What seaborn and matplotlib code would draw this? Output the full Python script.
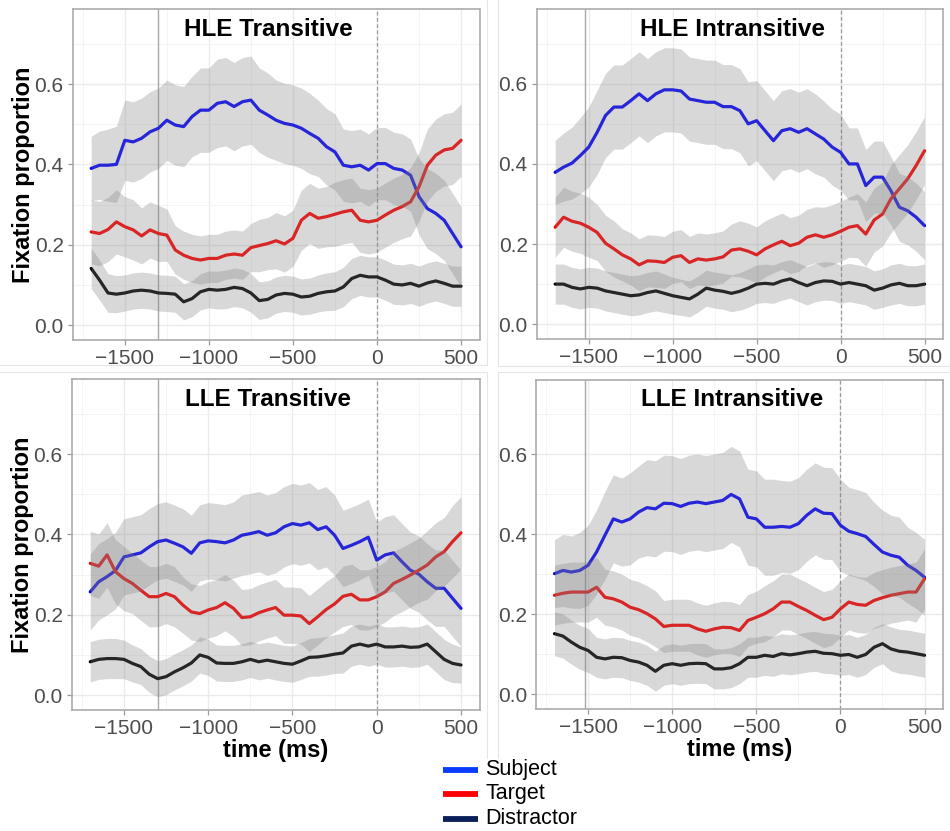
import numpy as np
import pandas as pd
import matplotlib
matplotlib.use("Agg")
import matplotlib.pyplot as plt
from matplotlib.lines import Line2D
from matplotlib.ticker import MultipleLocator
import seaborn as sns

# ---------------------------------------------------------------------------
# Data: fixation proportions, sampled every 50 ms from -1700 to 500 ms
# ---------------------------------------------------------------------------
time_ms = list(range(-1700, 501, 50))

hle_tr_subject = [
    0.390, 0.398, 0.398, 0.400, 0.460, 0.456, 0.465, 0.481, 0.490,
    0.510, 0.498, 0.494, 0.519, 0.535, 0.535, 0.552, 0.556, 0.544,
    0.556, 0.560, 0.535, 0.523, 0.510, 0.502, 0.498, 0.490, 0.477,
    0.465, 0.444, 0.431, 0.398, 0.394, 0.398, 0.386, 0.402, 0.402,
    0.390, 0.386, 0.373, 0.320, 0.290, 0.278, 0.261, 0.228, 0.195]
hle_tr_target = [
    0.232, 0.228, 0.238, 0.257, 0.245, 0.237, 0.222, 0.237, 0.228,
    0.224, 0.187, 0.174, 0.166, 0.162, 0.166, 0.166, 0.174, 0.177,
    0.174, 0.193, 0.198, 0.203, 0.210, 0.202, 0.216, 0.261, 0.278,
    0.266, 0.270, 0.276, 0.282, 0.286, 0.261, 0.257, 0.261, 0.274,
    0.286, 0.295, 0.307, 0.344, 0.398, 0.423, 0.436, 0.440, 0.460]
hle_tr_distractor = [
    0.141, 0.112, 0.080, 0.077, 0.080, 0.085, 0.087, 0.085, 0.080,
    0.079, 0.077, 0.058, 0.066, 0.083, 0.089, 0.087, 0.089, 0.094,
    0.091, 0.080, 0.061, 0.064, 0.075, 0.079, 0.077, 0.070, 0.072,
    0.079, 0.083, 0.085, 0.095, 0.116, 0.124, 0.120, 0.120, 0.112,
    0.102, 0.100, 0.104, 0.097, 0.105, 0.110, 0.104, 0.097, 0.097]

hle_in_subject = [
    0.379, 0.392, 0.402, 0.421, 0.442, 0.479, 0.521, 0.542, 0.542,
    0.558, 0.575, 0.558, 0.575, 0.585, 0.585, 0.582, 0.562, 0.558,
    0.554, 0.554, 0.543, 0.543, 0.533, 0.500, 0.508, 0.483, 0.458,
    0.483, 0.488, 0.479, 0.488, 0.475, 0.462, 0.442, 0.429, 0.400,
    0.400, 0.346, 0.367, 0.367, 0.333, 0.292, 0.283, 0.267, 0.246]
hle_in_target = [
    0.242, 0.267, 0.257, 0.252, 0.242, 0.229, 0.202, 0.188, 0.173,
    0.163, 0.148, 0.158, 0.157, 0.154, 0.167, 0.171, 0.154, 0.163,
    0.160, 0.163, 0.168, 0.185, 0.188, 0.182, 0.173, 0.188, 0.198,
    0.207, 0.196, 0.202, 0.217, 0.223, 0.217, 0.223, 0.232, 0.242,
    0.246, 0.225, 0.260, 0.275, 0.313, 0.338, 0.363, 0.396, 0.433]
hle_in_distractor = [
    0.100, 0.100, 0.092, 0.088, 0.092, 0.090, 0.083, 0.079, 0.075,
    0.071, 0.073, 0.079, 0.083, 0.077, 0.071, 0.067, 0.063, 0.075,
    0.090, 0.085, 0.082, 0.077, 0.082, 0.090, 0.100, 0.102, 0.100,
    0.108, 0.113, 0.104, 0.096, 0.104, 0.108, 0.107, 0.100, 0.104,
    0.100, 0.096, 0.085, 0.090, 0.098, 0.102, 0.096, 0.096, 0.100]

lle_tr_subject = [
    0.257, 0.282, 0.295, 0.310, 0.344, 0.349, 0.354, 0.369, 0.382,
    0.386, 0.378, 0.369, 0.353, 0.379, 0.384, 0.382, 0.379, 0.386,
    0.398, 0.402, 0.407, 0.398, 0.404, 0.419, 0.427, 0.423, 0.429,
    0.412, 0.419, 0.398, 0.365, 0.373, 0.382, 0.393, 0.336, 0.349,
    0.354, 0.332, 0.311, 0.301, 0.282, 0.266, 0.266, 0.241, 0.216]
lle_tr_target = [
    0.328, 0.321, 0.349, 0.307, 0.290, 0.278, 0.261, 0.245, 0.245,
    0.253, 0.245, 0.224, 0.207, 0.203, 0.212, 0.218, 0.230, 0.216,
    0.193, 0.195, 0.205, 0.212, 0.218, 0.199, 0.199, 0.197, 0.178,
    0.195, 0.213, 0.227, 0.246, 0.251, 0.237, 0.237, 0.245, 0.257,
    0.278, 0.288, 0.299, 0.311, 0.324, 0.344, 0.357, 0.382, 0.404]
lle_tr_distractor = [
    0.083, 0.089, 0.091, 0.091, 0.089, 0.079, 0.071, 0.052, 0.041,
    0.046, 0.058, 0.068, 0.080, 0.100, 0.094, 0.080, 0.079, 0.079,
    0.083, 0.089, 0.083, 0.087, 0.083, 0.079, 0.077, 0.085, 0.094,
    0.095, 0.098, 0.102, 0.105, 0.122, 0.127, 0.122, 0.127, 0.120,
    0.120, 0.122, 0.119, 0.120, 0.127, 0.108, 0.089, 0.079, 0.075]

lle_in_subject = [
    0.302, 0.310, 0.306, 0.310, 0.323, 0.356, 0.398, 0.439, 0.431,
    0.439, 0.456, 0.467, 0.464, 0.478, 0.477, 0.470, 0.478, 0.481,
    0.477, 0.481, 0.485, 0.500, 0.489, 0.443, 0.439, 0.418, 0.418,
    0.420, 0.418, 0.427, 0.448, 0.464, 0.453, 0.452, 0.423, 0.408,
    0.402, 0.395, 0.375, 0.356, 0.348, 0.343, 0.323, 0.310, 0.293]
lle_in_target = [
    0.248, 0.253, 0.256, 0.256, 0.256, 0.268, 0.243, 0.239, 0.231,
    0.218, 0.212, 0.202, 0.189, 0.170, 0.173, 0.173, 0.173, 0.164,
    0.158, 0.164, 0.168, 0.167, 0.160, 0.185, 0.193, 0.202, 0.214,
    0.231, 0.231, 0.220, 0.210, 0.198, 0.187, 0.193, 0.214, 0.231,
    0.225, 0.223, 0.235, 0.242, 0.248, 0.252, 0.256, 0.256, 0.289]
lle_in_distractor = [
    0.152, 0.146, 0.131, 0.118, 0.110, 0.093, 0.089, 0.093, 0.092,
    0.085, 0.081, 0.073, 0.058, 0.073, 0.077, 0.073, 0.077, 0.078,
    0.077, 0.064, 0.064, 0.067, 0.077, 0.093, 0.093, 0.098, 0.095,
    0.102, 0.099, 0.102, 0.106, 0.108, 0.103, 0.102, 0.098, 0.100,
    0.093, 0.100, 0.118, 0.127, 0.114, 0.108, 0.106, 0.102, 0.098]

# Confidence-band half-widths for each curve
hle_tr_subject_ci = [
    0.080, 0.085, 0.090, 0.095, 0.100, 0.100, 0.100, 0.100, 0.100,
    0.100, 0.100, 0.100, 0.100, 0.105, 0.105, 0.110, 0.110, 0.110,
    0.110, 0.110, 0.105, 0.105, 0.100, 0.100, 0.100, 0.100, 0.100,
    0.095, 0.095, 0.095, 0.090, 0.090, 0.090, 0.090, 0.090, 0.090,
    0.090, 0.090, 0.090, 0.095, 0.100, 0.100, 0.100, 0.100, 0.100]
hle_tr_target_ci = [
    0.080, 0.080, 0.080, 0.080, 0.075, 0.075, 0.070, 0.070, 0.070,
    0.065, 0.060, 0.060, 0.060, 0.060, 0.060, 0.060, 0.060, 0.060,
    0.060, 0.060, 0.065, 0.065, 0.070, 0.070, 0.070, 0.075, 0.075,
    0.075, 0.075, 0.080, 0.080, 0.080, 0.080, 0.080, 0.080, 0.080,
    0.080, 0.080, 0.085, 0.085, 0.090, 0.090, 0.090, 0.090, 0.090]
hle_tr_distractor_ci = [
    0.050, 0.050, 0.048, 0.046, 0.045, 0.045, 0.045, 0.045, 0.045,
    0.045, 0.045, 0.045, 0.045, 0.045, 0.046, 0.047, 0.048, 0.048,
    0.048, 0.048, 0.047, 0.046, 0.045, 0.045, 0.045, 0.045, 0.045,
    0.046, 0.047, 0.048, 0.049, 0.050, 0.050, 0.050, 0.050, 0.050,
    0.050, 0.050, 0.050, 0.050, 0.050, 0.050, 0.050, 0.050, 0.050]

hle_in_subject_ci = [
    0.080, 0.085, 0.090, 0.095, 0.100, 0.105, 0.105, 0.105, 0.105,
    0.105, 0.105, 0.105, 0.105, 0.105, 0.105, 0.105, 0.105, 0.105,
    0.105, 0.105, 0.105, 0.105, 0.105, 0.105, 0.100, 0.100, 0.100,
    0.100, 0.100, 0.100, 0.100, 0.100, 0.095, 0.095, 0.095, 0.090,
    0.090, 0.090, 0.090, 0.090, 0.085, 0.085, 0.085, 0.085, 0.085]
hle_in_target_ci = [
    0.075, 0.075, 0.075, 0.075, 0.075, 0.070, 0.070, 0.070, 0.065,
    0.065, 0.065, 0.065, 0.065, 0.065, 0.065, 0.065, 0.065, 0.065,
    0.065, 0.065, 0.065, 0.065, 0.070, 0.070, 0.070, 0.070, 0.070,
    0.070, 0.070, 0.070, 0.070, 0.070, 0.075, 0.075, 0.075, 0.075,
    0.080, 0.080, 0.080, 0.080, 0.085, 0.085, 0.085, 0.085, 0.085]
hle_in_distractor_ci = [
    0.050, 0.050, 0.050, 0.050, 0.050, 0.050, 0.050, 0.050, 0.050,
    0.050, 0.050, 0.050, 0.050, 0.048, 0.046, 0.045, 0.045, 0.045,
    0.045, 0.045, 0.045, 0.046, 0.047, 0.048, 0.048, 0.048, 0.048,
    0.048, 0.048, 0.048, 0.048, 0.048, 0.048, 0.048, 0.048, 0.048,
    0.048, 0.048, 0.048, 0.048, 0.050, 0.050, 0.050, 0.050, 0.050]

lle_tr_subject_ci = [
    0.095, 0.095, 0.095, 0.095, 0.095, 0.095, 0.095, 0.095, 0.095,
    0.095, 0.095, 0.095, 0.095, 0.095, 0.095, 0.095, 0.095, 0.095,
    0.100, 0.100, 0.100, 0.100, 0.100, 0.100, 0.100, 0.100, 0.100,
    0.100, 0.100, 0.100, 0.095, 0.095, 0.095, 0.095, 0.095, 0.095,
    0.095, 0.095, 0.095, 0.095, 0.095, 0.095, 0.095, 0.095, 0.095]
lle_tr_target_ci = [
    0.080, 0.080, 0.080, 0.080, 0.080, 0.075, 0.075, 0.075, 0.075,
    0.075, 0.075, 0.070, 0.070, 0.070, 0.070, 0.070, 0.070, 0.070,
    0.070, 0.070, 0.070, 0.070, 0.070, 0.070, 0.070, 0.070, 0.070,
    0.070, 0.070, 0.070, 0.075, 0.075, 0.075, 0.075, 0.075, 0.075,
    0.080, 0.080, 0.080, 0.080, 0.085, 0.085, 0.085, 0.090, 0.090]
lle_tr_distractor_ci = [
    0.050, 0.050, 0.050, 0.050, 0.048, 0.046, 0.045, 0.045, 0.045,
    0.045, 0.045, 0.045, 0.045, 0.045, 0.045, 0.045, 0.045, 0.045,
    0.045, 0.045, 0.045, 0.045, 0.045, 0.045, 0.045, 0.046, 0.047,
    0.048, 0.048, 0.048, 0.050, 0.050, 0.050, 0.050, 0.050, 0.050,
    0.050, 0.050, 0.050, 0.050, 0.050, 0.050, 0.050, 0.048, 0.045]

lle_in_subject_ci = [
    0.085, 0.090, 0.090, 0.095, 0.100, 0.105, 0.110, 0.110, 0.110,
    0.115, 0.115, 0.120, 0.120, 0.120, 0.120, 0.120, 0.120, 0.120,
    0.120, 0.120, 0.120, 0.120, 0.120, 0.120, 0.120, 0.120, 0.120,
    0.115, 0.115, 0.115, 0.115, 0.115, 0.115, 0.115, 0.115, 0.110,
    0.110, 0.110, 0.105, 0.105, 0.100, 0.100, 0.095, 0.095, 0.095]
lle_in_target_ci = [
    0.075, 0.075, 0.075, 0.075, 0.075, 0.075, 0.070, 0.070, 0.070,
    0.070, 0.070, 0.070, 0.070, 0.065, 0.065, 0.065, 0.065, 0.065,
    0.065, 0.065, 0.065, 0.065, 0.065, 0.065, 0.065, 0.070, 0.070,
    0.070, 0.070, 0.070, 0.070, 0.070, 0.070, 0.070, 0.070, 0.070,
    0.070, 0.070, 0.070, 0.070, 0.070, 0.070, 0.070, 0.075, 0.075]
lle_in_distractor_ci = [
    0.055, 0.055, 0.055, 0.055, 0.055, 0.050, 0.050, 0.050, 0.050,
    0.050, 0.050, 0.050, 0.050, 0.050, 0.050, 0.050, 0.050, 0.050,
    0.050, 0.050, 0.050, 0.050, 0.050, 0.050, 0.050, 0.050, 0.050,
    0.050, 0.050, 0.050, 0.050, 0.050, 0.050, 0.050, 0.050, 0.050,
    0.050, 0.050, 0.050, 0.050, 0.055, 0.055, 0.055, 0.055, 0.055]

panel_titles = ["HLE Transitive", "HLE Intransitive", "LLE Transitive", "LLE Intransitive"]
verb_onset_ms = [-1300, -1520, -1300, -1520]
series_names = ["Subject", "Target", "Distractor"]

panel_means = [
    [hle_tr_subject, hle_tr_target, hle_tr_distractor],
    [hle_in_subject, hle_in_target, hle_in_distractor],
    [lle_tr_subject, lle_tr_target, lle_tr_distractor],
    [lle_in_subject, lle_in_target, lle_in_distractor],
]
panel_cis = [
    [hle_tr_subject_ci, hle_tr_target_ci, hle_tr_distractor_ci],
    [hle_in_subject_ci, hle_in_target_ci, hle_in_distractor_ci],
    [lle_tr_subject_ci, lle_tr_target_ci, lle_tr_distractor_ci],
    [lle_in_subject_ci, lle_in_target_ci, lle_in_distractor_ci],
]

line_colors = {"Subject": "#0000ff", "Target": "#ff0000", "Distractor": "#000000"}
legend_colors = {"Subject": "#0a3cff", "Target": "#ff0000", "Distractor": "#0b1f5c"}

# ---------------------------------------------------------------------------
# Figure
# ---------------------------------------------------------------------------
sns.set_theme(style="white")
plt.rcParams["font.family"] = ["Liberation Sans", "DejaVu Sans"]

W, H = 950, 831
fig = plt.figure(figsize=(W / 100, H / 100), dpi=100)


def px_rect(left, top, right, bottom):
    return [left / W, 1 - bottom / H, (right - left) / W, (bottom - top) / H]


panel_boxes = [
    px_rect(72.7, 9.3, 479.5, 340.0),
    px_rect(536.7, 9.3, 943.0, 339.0),
    px_rect(71.7, 379.3, 479.5, 710.0),
    px_rect(536.0, 380.0, 943.0, 709.3),
]

# faint frames around each panel tile
frame_col = "#e6e6e6"


def fig_hline(x0, x1, y):
    fig.add_artist(Line2D([x0 / W, x1 / W], [1 - y / H] * 2, color=frame_col, lw=0.8,
                          transform=fig.transFigure))


def fig_vline(x, y0, y1):
    fig.add_artist(Line2D([x / W] * 2, [1 - y0 / H, 1 - y1 / H], color=frame_col, lw=0.8,
                          transform=fig.transFigure))


fig_hline(0, 487, 365)
fig_vline(487, 0, 365)
fig_hline(498, 950, 366)
fig_vline(498, 0, 366)
fig_hline(0, 487, 372)
fig_vline(487, 372, 758)
fig_hline(498, 950, 372)
fig_vline(498, 372, 758)

for k in range(4):
    ax = fig.add_axes(panel_boxes[k])
    means = panel_means[k]
    cis = panel_cis[k]

    df = pd.DataFrame({
        "time": time_ms * 3,
        "prop": means[0] + means[1] + means[2],
        "ci": cis[0] + cis[1] + cis[2],
        "series": sum([[s] * len(time_ms) for s in series_names], []),
    })

    # reference lines
    ax.axvline(verb_onset_ms[k], color="#a8a8a8", lw=1.0, zorder=1.5)
    ax.axvline(0, color="#9a9a9a", lw=0.9, ls=(0, (3, 2)), zorder=1.5)

    sns.lineplot(data=df, x="time", y="prop", hue="series", palette=line_colors,
                 hue_order=series_names, errorbar=None, legend=False,
                 lw=2.3, ax=ax, zorder=2)

    for s in series_names:
        d = df[df["series"] == s]
        ax.fill_between(d["time"], d["prop"] - d["ci"], d["prop"] + d["ci"],
                        color="#808080", alpha=0.3, lw=0, zorder=3)

    ax.set_xlim(-1810, 610)
    ax.set_ylim(-0.037, 0.786)
    ax.xaxis.set_major_locator(MultipleLocator(500))
    ax.xaxis.set_minor_locator(MultipleLocator(250))
    ax.yaxis.set_major_locator(MultipleLocator(0.2))
    ax.yaxis.set_minor_locator(MultipleLocator(0.1))
    ax.set_yticks([0.0, 0.2, 0.4, 0.6])
    ax.set_yticklabels(["0.0", "0.2", "0.4", "0.6"])
    ax.grid(which="major", color="#ebebeb", lw=1.0, zorder=0)
    ax.grid(which="minor", color="#f4f4f4", lw=0.7, zorder=0)
    ax.set_axisbelow(True)

    for sp in ax.spines.values():
        sp.set_color("#ababab")
        sp.set_linewidth(1.2)
    ax.tick_params(axis="both", which="major", length=3.5, width=0.9, color="#9a9a9a",
                   labelsize=15, labelcolor="#4d4d4d", pad=3, left=True, bottom=True)
    ax.tick_params(axis="both", which="minor", length=0)

    ax.text(0.482, 0.94, panel_titles[k], transform=ax.transAxes, ha="center",
            va="center", fontsize=17.5, fontweight="bold", color="black", zorder=5)

    if k in (0, 2):
        ax.set_ylabel("Fixation proportion", fontsize=17, fontweight="bold",
                      color="black")
        ax.yaxis.set_label_coords(-0.093, 0.5)
    else:
        ax.set_ylabel("")
    if k in (2, 3):
        ax.set_xlabel("time (ms)", fontsize=17, fontweight="bold", color="black")
        ax.xaxis.set_label_coords(0.5, -0.087)
    else:
        ax.set_xlabel("")

# legend below the panels
leg_rows = [("Subject", 770), ("Target", 793.5), ("Distractor", 818.5)]
for name, ypx in leg_rows:
    fig.add_artist(Line2D([443 / W, 478 / W], [1 - ypx / H] * 2, color=legend_colors[name],
                          lw=4.2, solid_capstyle="butt", transform=fig.transFigure))
    fig.text(485 / W, 1 - ypx / H, name, fontsize=15.5, va="center", ha="left",
             color="black")

fig.savefig("out.png", dpi=100)
